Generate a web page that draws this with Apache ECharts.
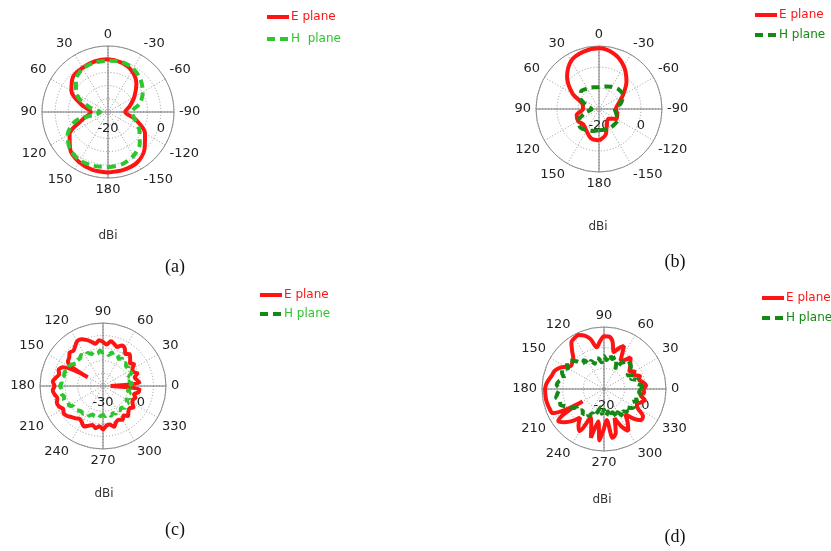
<!DOCTYPE html>
<html><head><meta charset="utf-8">
<script src="https://cdn.jsdelivr.net/npm/echarts@6/dist/echarts.min.js"></script>
<style>html,body{margin:0;padding:0;background:#fff}#c{width:831px;height:551px}</style>
</head><body><div id="c"></div><script>
// angle categories (degrees)
const ANG15 = [-180,-165,-150,-135,-120,-105,-90,-75,-60,-45,-30,-15,0,15,30,45,60,75,90,105,120,135,150,165];
const ANG5 = [0,5,10,15,20,25,30,35,40,45,50,55,60,65,70,75,80,85,90,95,100,105,110,115,120,125,130,135,140,145,150,155,160,165,170,175,180,185,190,195,200,205,210,215,220,225,230,235,240,245,250,255,260,265,270,275,280,285,290,295,300,305,310,315,320,325,330,335,340,345,350,355];

// (a) gain, dBi
const aE = [2.9,2.7,2.1,-0.4,-3.8,-9.2,-13.5,-11.5,-8.5,-4.8,-2.0,-0.6,0.0,-0.2,-0.7,-1.2,-4.0,-9.7,-13.5,-10.5,-3.2,0.2,1.9,2.7];
const aH = [0.9,0.5,-0.8,-3.0,-6.3,-9.5,-11,-7.5,-4.8,-2.6,-1.0,-0.3,-0.6,-0.6,-1.0,-2.8,-6.2,-12.5,-17,-7.5,-2.3,0.2,1.2,1.1];
// (b)
const bE = [-5.0,-7.5,-12.5,-13.5,-10.5,-11,-12,-10.5,-6.8,-1.5,3.6,7.3,8.9,8.3,6.5,1.5,-5.5,-12,-12.4,-9,-8.5,-9.5,-8,-5.5];
const bH = [-9.9,-9.8,-9.6,-9.6,-9.7,-11.5,-12.5,-9.2,-6.8,-6.8,-7.8,-8.9,-9.7,-9.3,-8.8,-8.0,-10,-14,-16.5,-13.5,-8.5,-7.5,-8.4,-9.2];
// (c)
const cE = [-24,-1,-2.5,-4,-1,-3.5,-3,0,-2,0.5,3,1,4.5,5.5,3,4.5,6,3,5,6.5,4,6.5,9,11,11,8.5,6.5,7.5,5,4,-16,5,7.5,6,8,10,8.5,10,9,7.5,9,8.5,6.5,8,7,5,3.5,2,3.5,5.5,3.5,2,4,2,4.5,1.5,1,3.5,0.5,-0.5,1,-1.5,1,-1.5,-2.5,-0.5,-3,-4,-2.5,-4.5,-1.5,-1];
const cH = [-9,-7,-8.5,-6,-8,-5,-7,-5,-6,-4.5,-6,-3.5,-5,-3,-4.5,-2.5,-5,-3,-3.5,-2,-4,-2,-3,-1,-2.5,0,-1.5,-1,-2.5,0,1,0,2.5,2,3.5,3,4,3,4,2,3,0.5,1,-1.5,-1,-2.5,-3.5,-3,-5,-4,-6,-5,-7,-6,-7,-6,-7.5,-5.5,-7,-6,-8,-6.5,-7.5,-5.5,-7,-6,-8.5,-7,-9,-8,-10,-8];
// (d)
const dE = [-1,0.5,-1,-2.5,-1.5,-4,-3,-5,-3.5,-2,0,-3,-4,3,1,-1.5,3.5,5.5,5.5,3,0.5,5,7.5,8.8,8.5,7.5,4,1,0,-0.5,1.5,4,5.5,6,7,8,8.5,8.5,8.5,8.3,8,7.5,-8,7,5,2,-2,1.5,3.5,-5,-2,4.5,-4,5,-1,-5,4,2,-5,0,3.5,0,-4,0.5,3.5,3,-1,-2.5,-1,0.5,-2,-0.5];
const dH = [-2,-1.5,-4,-3,-6,-4,-7,-5,-3,-2.5,-5,-4,-9,-6,-3.5,-5,-3,-6,-4,-7,-5,-4.5,-7,-5,-6,-3,-4,-1,1.5,2,0,2.5,1.5,0,2,3,1.5,2.5,3.5,2,2.5,0,-1.5,-4,-3.5,-5.5,-4,-6,-5,-7,-6,-9,-11,-8,-10,-7,-9,-6,-8,-5,-7,-4,-6,-4,-6.5,-4,-3,-5,-3,-4,-2,-3];

const RED = '#ff1414';
const GREEN_A = '#2ec62e';
const GREEN_D = '#138a13';
const FONT = 'DejaVu Sans';

function pts(angles, vals, amin) {
  const p = angles.map((a, i) => [vals[i], a < amin ? a + 360 : a]);
  p.push(p[0].slice());
  return p;
}

const plots = [
  {center:[108,112], r:66, amin:-90, amax:270, wrap:true, rmin:-20, rmax:5, rint:5, show:[-20,0], ang:ANG15, E:aE, H:aH, hName:'H  plane', green:GREEN_A, legend:[260,6,10]},
  {center:[599,109], r:63, amin:-90, amax:270, wrap:true, rmin:-20, rmax:10, rint:10, show:[-20,0], ang:ANG15, E:bE, H:bH, hName:'H plane', green:GREEN_D, legend:[748,4,8]},
  {center:[103,386], r:63, amin:0, amax:360, wrap:false, rmin:-30, rmax:20, rint:10, show:[-30,0], ang:ANG5, E:cE, H:cH, hName:'H plane', green:GREEN_A, legend:[253,284,7]},
  {center:[604,389], r:62, amin:0, amax:360, wrap:false, rmin:-20, rmax:10, rint:10, show:[-20,0], ang:ANG5, E:dE, H:dH, hName:'H plane', green:GREEN_D, legend:[755,287,8]}
];

const polar = [], angleAxis = [], radiusAxis = [], series = [], legend = [];
plots.forEach((p, i) => {
  polar.push({center:p.center, radius:p.r});
  angleAxis.push({
    polarIndex:i, type:'value', startAngle:0, clockwise:false, min:p.amin, max:p.amax, interval:30,
    axisLine:{lineStyle:{color:'#8c8c8c', width:1}},
    axisTick:{show:false},
    axisLabel:{color:'#222', fontSize:13, fontFamily:FONT, margin:5,
      formatter: v => String(p.wrap && v > 180 ? v - 360 : v)},
    splitLine:{lineStyle:{color:'#9a9a9a', type:[1,2], width:1}}
  });
  radiusAxis.push({
    polarIndex:i, type:'value', min:p.rmin, max:p.rmax, interval:p.rint,
    axisLine:{show:false}, axisTick:{show:false},
    axisLabel:{color:'#222', fontSize:13, fontFamily:FONT, margin:-10, verticalAlign:'top', align:'center',
      formatter: v => (p.show.indexOf(v) >= 0 ? String(v) : '')},
    splitLine:{lineStyle:{color:'#9a9a9a', type:[1,2], width:1}}
  });
});
plots.forEach((p, i) => {
  polar.push({center:p.center, radius:p.r});
  angleAxis.push({
    polarIndex:4+i, type:'value', startAngle:0, min:0, max:360, interval:90,
    axisLine:{show:false}, axisTick:{show:false}, axisLabel:{show:false},
    splitLine:{lineStyle:{color:'#777', width:1}}
  });
  radiusAxis.push({polarIndex:4+i, type:'value', min:0, max:1, show:false, splitLine:{show:false}});
});
plots.forEach((p, i) => {
  series.push({
    type:'line', name:'E plane', coordinateSystem:'polar', polarIndex:i, symbol:'none', smooth:0.3,
    data:pts(p.ang, p.E, p.amin), lineStyle:{color:RED, width:4}, itemStyle:{color:RED}, z:5, clip:false
  });
  series.push({
    type:'line', name:p.hName, coordinateSystem:'polar', polarIndex:i, symbol:'none', smooth:0.3,
    data:pts(p.ang, p.H, p.amin), lineStyle:{color:p.green, width:4, type:[8,5]}, itemStyle:{color:p.green}, z:6, clip:false
  });
  legend.push({
    orient:'vertical', left:p.legend[0], top:p.legend[1], itemGap:p.legend[2],
    itemWidth:22, itemHeight:12, selectedMode:false,
    itemStyle:{opacity:0, borderWidth:0},
    lineStyle:{width:4},
    textStyle:{fontSize:12, fontFamily:FONT, padding:[0,0,0,-3]},
    data:[{name:'E plane', textStyle:{color:RED}}, {name:p.hName, textStyle:{color:p.green}}]
  });
});

const caps = [
  {x:108, y:236, t:'dBi'}, {x:598, y:227, t:'dBi'}, {x:104, y:494, t:'dBi'}, {x:602, y:500, t:'dBi'}
];
const subs = [
  {x:175, y:267, t:'(a)'}, {x:675, y:262, t:'(b)'}, {x:175, y:530, t:'(c)'}, {x:675, y:537, t:'(d)'}
];
const graphic = [];
caps.forEach(c => graphic.push({type:'text', x:c.x, y:c.y, style:{text:c.t, fill:'#333', font:'12px "DejaVu Sans"', textAlign:'center', textVerticalAlign:'middle'}}));
subs.forEach(c => graphic.push({type:'text', x:c.x, y:c.y, style:{text:c.t, fill:'#111', font:'18px "Liberation Serif"', textAlign:'center', textVerticalAlign:'middle'}}));

const chart = echarts.init(document.getElementById('c'), null, {renderer:'canvas'});
chart.setOption({
  animation:false, backgroundColor:'#fff',
  polar, angleAxis, radiusAxis, series, legend, graphic
});
</script></body></html>
